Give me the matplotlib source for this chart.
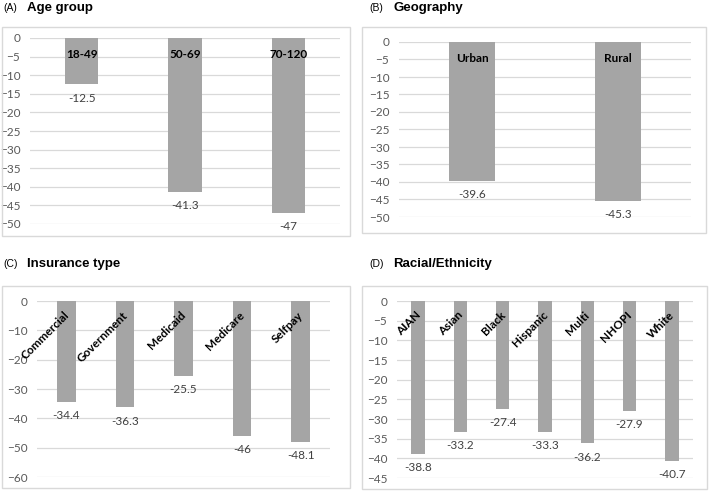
import matplotlib
matplotlib.use("Agg")
import matplotlib.pyplot as plt
from matplotlib.patches import Rectangle
import numpy as np

# --- data ---
age_groups = ["18-49", "50-69", "70-120"]
age_values = [-12.5, -41.3, -47]

geo_groups = ["Urban", "Rural"]
geo_values = [-39.6, -45.3]

ins_groups = ["Commercial", "Government", "Medicaid", "Medicare", "Selfpay"]
ins_values = [-34.4, -36.3, -25.5, -46, -48.1]

race_groups = ["AIAN", "Asian", "Black", "Hispanic", "Multi", "NHOPI", "White"]
race_values = [-38.8, -33.2, -27.4, -33.3, -36.2, -27.9, -40.7]

W, H = 709, 494
BAR = "#a5a5a5"
GRID = "#d9d9d9"
TXT = "#595959"
LBL_FONT = ["Lato", "DejaVu Sans"]
TITLE_FONT = ["Liberation Sans", "DejaVu Sans"]

fig = plt.figure(figsize=(W / 100, H / 100), dpi=100)


def px_axes(left, right, top, bottom):
    # axes placed by pixel box (y from the top)
    return fig.add_axes([left / W, (H - bottom) / H, (right - left) / W, (bottom - top) / H])


def frame(left, right, top, bottom):
    fig.patches.append(Rectangle((left / W, (H - bottom) / H), (right - left) / W, (bottom - top) / H,
                                 transform=fig.transFigure, fill=False, edgecolor=GRID, lw=1))


def title(x, y, tag, text):
    fig.text(x / W, 1 - y / H, tag, fontsize=7.5, family=TITLE_FONT, va="center", ha="left")
    fig.text((x + 24) / W, 1 - y / H, text, fontsize=9.5, fontweight="bold", family=TITLE_FONT,
             va="center", ha="left")


def panel(ax, cats, vals, ymin, step, rotate):
    x = np.arange(len(cats))
    ax.bar(x, vals, width=0.32, color=BAR, zorder=2)
    ax.set_xlim(-0.5, len(cats) - 0.5)
    ax.set_ylim(ymin, 0)
    ax.set_yticks(np.arange(ymin, 1, step))
    ax.yaxis.grid(True, color=GRID, lw=0.9, zorder=0)
    ax.set_axisbelow(True)
    ax.set_xticks([])
    ax.tick_params(axis="y", length=0, pad=7, labelsize=8.5, labelcolor=TXT)
    for lab in ax.get_yticklabels():
        lab.set_family(LBL_FONT)
    for s in ax.spines.values():
        s.set_visible(False)
    for i, (c, v) in enumerate(zip(cats, vals)):
        if rotate:
            ax.annotate(c, (i, 0), xytext=(0.5, -9), textcoords="offset points", rotation=45,
                        rotation_mode="anchor", ha="right", va="center", fontsize=8.5,
                        fontweight="bold", family=LBL_FONT, color="black", annotation_clip=False)
        else:
            ax.annotate(c, (i, 0), xytext=(0, -12), textcoords="offset points", ha="center",
                        va="center", fontsize=8.5, fontweight="bold", family=LBL_FONT,
                        color="black", annotation_clip=False)
        ax.annotate("%g" % v, (i, v), xytext=(0, -10), textcoords="offset points", ha="center",
                    va="center", fontsize=8.5, family=LBL_FONT, color="#404040",
                    annotation_clip=False)


# (A) Age group
frame(2, 350, 27, 236)
title(3, 8, "(A)", "Age group")
panel(px_axes(30, 340, 38, 224), age_groups, age_values, -50, 5, False)

# (B) Geography
frame(362, 706, 27, 233)
title(369, 8, "(B)", "Geography")
panel(px_axes(399, 691, 42, 217), geo_groups, geo_values, -50, 5, False)

# (C) Insurance type
frame(2, 350, 286, 488)
title(3, 264, "(C)", "Insurance type")
panel(px_axes(37, 330, 301, 477), ins_groups, ins_values, -60, 10, True)

# (D) Racial/Ethnicity
frame(362, 707, 286, 489)
title(369, 264, "(D)", "Racial/Ethnicity")
panel(px_axes(397, 693, 301, 478), race_groups, race_values, -45, 5, True)

fig.savefig("out.png", dpi=100)
